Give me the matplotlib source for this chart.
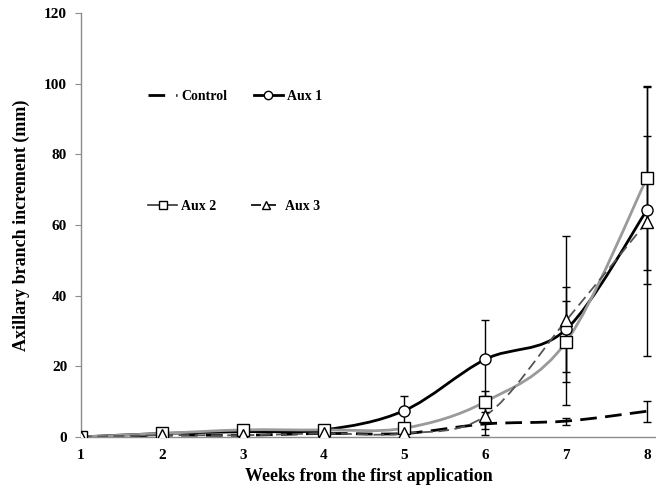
import numpy as np
import matplotlib.pyplot as plt
from matplotlib.path import Path
from matplotlib.patches import PathPatch
from matplotlib.lines import Line2D

plt.rcParams['font.family'] = ['Liberation Serif', 'DejaVu Serif']
plt.rcParams['font.weight'] = 'bold'

# data
weeks = [1, 2, 3, 4, 5, 6, 7, 8]
control = [0, 0.5, 0.5, 1.0, 1.0, 3.7, 4.5, 7.3]
control_err = [0, 0, 0, 0, 0, 1.5, 1.0, 3.0]
aux1 = [0, 1.0, 1.5, 2.0, 7.5, 22, 30.5, 64.3]
aux1_err = [0, 0, 0, 0, 4.2, 11, 12, 21]
aux2 = [0, 1.0, 2.0, 2.0, 2.5, 10, 27, 73.4]
aux2_err = [0, 0, 0, 0, 0, 3, 11.5, 26]
aux3 = [0, 0.5, 0.5, 1.0, 1.0, 6, 33, 61]
aux3_err = [0, 0, 0, 0, 0, 5.5, 24, 38]


def smooth_path(x, y):
    # Excel-like smoothed line: cubic bezier segments through the points
    x = np.asarray(x, float)
    y = np.asarray(y, float)
    pts = np.column_stack([x, y])
    verts = [pts[0]]
    codes = [Path.MOVETO]
    n = len(pts)
    for i in range(n - 1):
        p0 = pts[i - 1] if i > 0 else pts[i]
        p1 = pts[i]
        p2 = pts[i + 1]
        p3 = pts[i + 2] if i + 2 < n else pts[i + 1]
        c1 = p1 + (p2 - p0) / 6.0
        c2 = p2 - (p3 - p1) / 6.0
        verts += [c1, c2, p2]
        codes += [Path.CURVE4] * 3
    return Path(verts, codes)


fig = plt.figure(figsize=(6.56, 4.94), dpi=100)
ax = fig.add_axes([0.1235, 0.1154, 0.8765, 0.858])

series = [
    ('Control', control, control_err, 'black', (0, (6, 3)), 2.0, None),
    ('Aux 1', aux1, aux1_err, 'black', '-', 2.0, 'o'),
    ('Aux 2', aux2, aux2_err, '#9a9a9a', '-', 2.0, 's'),
    ('Aux 3', aux3, aux3_err, '#555555', (0, (6, 3)), 1.3, '^'),
]

handles = []
for name, vals, err, col, ls, lw, mk in series:
    patch = PathPatch(smooth_path(weeks, vals), facecolor='none', edgecolor=col,
                      lw=lw, linestyle=ls, zorder=2)
    ax.add_patch(patch)
    ax.errorbar(weeks[4:], vals[4:], yerr=err[4:], fmt='none', ecolor='black',
                elinewidth=1, capsize=3, capthick=1, zorder=3)
    if mk:
        ax.plot(weeks, vals, linestyle='none', marker=mk, markersize=8,
                markerfacecolor='white', markeredgecolor='black',
                markeredgewidth=1, zorder=4)
    handles.append(Line2D([], [], color='black' if name != 'Aux 2' else '#333333',
                          lw=2 if name in ('Control', 'Aux 1') else 1.2,
                          linestyle=(0, (6, 4)) if name == 'Control' else ls,
                          marker=mk, markersize=6,
                          markerfacecolor='white', markeredgecolor='black'))

leg1 = ax.legend(handles[:2], ['Control', 'Aux 1'], ncol=2, frameon=False,
                 loc='center left', bbox_to_anchor=(0.095, 0.804), fontsize=10,
                 handlelength=2.1, handletextpad=0.3, columnspacing=1.9)
ax.add_artist(leg1)
ax.legend(handles[2:], ['Aux 2', 'Aux 3'], ncol=2, frameon=False,
          loc='center left', bbox_to_anchor=(0.095, 0.544), fontsize=10,
          handlelength=2.1, handletextpad=0.3, columnspacing=2.5)

ax.set_xlim(1, 8.11)
ax.set_ylim(0, 120)
ax.set_yticks(range(0, 121, 20))
ax.set_xticks(weeks)
for s in ['top', 'right']:
    ax.spines[s].set_visible(False)
for s in ['left', 'bottom']:
    ax.spines[s].set_color('#8c8c8c')
    ax.spines[s].set_linewidth(1)
ax.tick_params(axis='y', direction='out', length=4, color='#8c8c8c', labelsize=11, pad=6)
ax.tick_params(axis='x', length=0, labelsize=11, pad=9)
for lab in ax.get_xticklabels() + ax.get_yticklabels():
    lab.set_fontweight('bold')

ax.set_xlabel('Weeks from the first application', fontsize=13, fontweight='bold', labelpad=4)
ax.set_ylabel('Axillary branch increment (mm)', fontsize=13, fontweight='bold', labelpad=10)

fig.savefig('out.png', dpi=100)
